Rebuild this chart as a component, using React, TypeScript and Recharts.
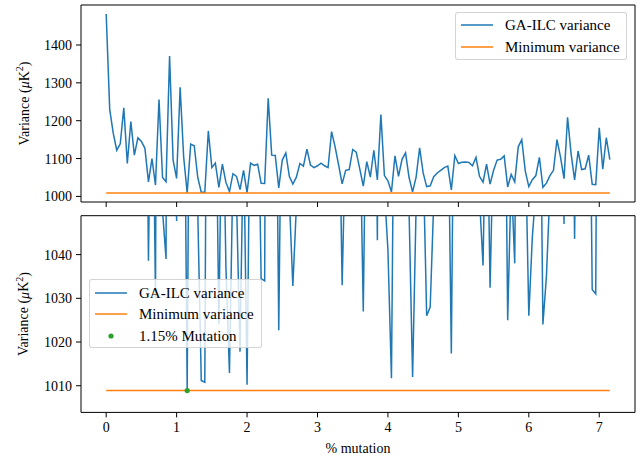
import React from 'react';
import { LineChart, Line, XAxis, YAxis, ReferenceArea, ReferenceDot } from 'recharts';

// ---------------- data ----------------
const mutationStep = 0.05; // % mutation between consecutive runs
const gaIlcVariance = [
  1482, 1230, 1167, 1122, 1139, 1234, 1087, 1198, 1109, 1155,
  1145, 1127, 1038.6, 1100, 1030, 1256, 1050, 1039, 1371, 1096,
  1047.7, 1288, 1104, 1008.9, 1138, 1134, 1050, 1011.2, 1010.8, 1173,
  1076, 1088, 1024, 1085, 1037, 1012.9, 1060, 1053, 1017.8, 1069,
  1010.2, 1088, 1082, 1085, 1034.5, 1034, 1259, 1109, 1108, 1022.7,
  1096, 1115, 1053, 1032.8, 1051, 1087, 1080, 1125, 1083, 1076,
  1081, 1088, 1081, 1076, 1171, 1131, 1083, 1033, 1069, 1071,
  1124, 1117, 1073, 1027, 1092, 1051, 1122, 1043.3, 1216, 1055,
  1041, 1011.7, 1107, 1053, 1098, 1115, 1050, 1012, 1051, 1128,
  1062, 1026, 1028, 1052, 1062, 1069, 1076, 1080, 1017.4, 1108,
  1087, 1090, 1091, 1090, 1081, 1103, 1053, 1037.5, 1085, 1032.4,
  1069, 1096, 1098, 1107, 1025, 1058, 1038, 1131, 1150, 1067,
  1026, 1044, 1055, 1103, 1024, 1035, 1055, 1069, 1150, 1104,
  1047, 1209, 1113, 1043.6, 1120, 1071, 1073, 1109, 1032, 1031,
  1181, 1072, 1155, 1097,
];
const minimumVariance = 1008.9;
const bestMutation = 1.15;
const seriesLabels = ['GA-ILC variance', 'Minimum variance', '1.15% Mutation'];
const xTicks = [0, 1, 2, 3, 4, 5, 6, 7];
const topTicks = [1000, 1100, 1200, 1300, 1400];
const bottomTicks = [1010, 1020, 1030, 1040];
const xAxisTitle = '% mutation';

// ---------------- derived ----------------
const rows = gaIlcVariance.map((v, i) => ({
  x: Math.round(i * mutationStep * 10000) / 10000,
  ga: v,
  min: minimumVariance,
}));
const xLast = rows[rows.length - 1].x;
const xDomain: [number, number] = [-xLast * 0.05, xLast * 1.05];
const vMax = Math.max(...gaIlcVariance);
const vMin = Math.min(minimumVariance, ...gaIlcVariance);
const vRange = vMax - vMin;
const topDomain: [number, number] = [vMin - 0.05 * vRange, vMax + 0.05 * vRange];
const bottomDomain: [number, number] = [minimumVariance - 5, minimumVariance + 40];

const FONT = "'Liberation Serif', 'Times New Roman', Times, serif";
const BLUE = '#1f77b4';
const ORANGE = '#ff7f0e';
const GREEN = '#2ca02c';
const TICK_FS = 14;
const LEG_FS = 15;

const VarianceLabel = (props: any) => {
  const vb = props.viewBox || { x: 0, y: 0, width: 0, height: 0 };
  const cy = vb.y + vb.height / 2;
  const x = 24;
  return (
    <text
      x={x}
      y={cy}
      transform={`rotate(-90, ${x}, ${cy})`}
      textAnchor="middle"
      dominantBaseline="central"
      fontSize={TICK_FS}
      fill="#000"
    >
      Variance (<tspan fontStyle="italic">μ</tspan>K<tspan dy={-5} fontSize={10}>2</tspan>
      <tspan dy={5}>)</tspan>
    </text>
  );
};

const XTitle = (props: any) => {
  const vb = props.viewBox || { x: 0, y: 0, width: 0, height: 0 };
  return (
    <text x={vb.x + vb.width / 2} y={vb.y + 41} textAnchor="middle" fontSize={TICK_FS} fill="#000">
      {xAxisTitle}
    </text>
  );
};

type LegendItem = { label: string; color: string; kind: 'line' | 'dot' };

const LegendBox = ({ left, top, width, height, items, firstRow, gap }: any) => (
  <div
    style={{
      position: 'absolute',
      left,
      top,
      width,
      height,
      boxSizing: 'border-box',
      border: '1px solid rgba(204,204,204,0.85)',
      borderRadius: 3,
      background: 'rgba(255,255,255,0.8)',
      fontFamily: FONT,
      fontSize: LEG_FS,
      color: '#000',
    }}
  >
    {items.map((it: LegendItem, i: number) => (
      <div
        key={it.label}
        style={{
          position: 'absolute',
          left: 0,
          top: firstRow + i * gap - 10,
          height: 20,
          lineHeight: '20px',
          whiteSpace: 'nowrap',
        }}
      >
        <svg width={32} height={20} style={{ position: 'absolute', left: 5, top: 0 }}>
          {it.kind === 'line' ? (
            <line x1={0} x2={32} y1={10} y2={10} stroke={it.color} strokeWidth={1.5} />
          ) : (
            <circle cx={16} cy={10} r={2.6} fill={it.color} />
          )}
        </svg>
        <span style={{ position: 'absolute', left: 49 }}>{it.label}</span>
      </div>
    ))}
  </div>
);

const tickStyle = { fill: '#000', fontSize: TICK_FS };

export default function App() {
  const topItems: LegendItem[] = [
    { label: seriesLabels[0], color: BLUE, kind: 'line' },
    { label: seriesLabels[1], color: ORANGE, kind: 'line' },
  ];
  const bottomItems: LegendItem[] = [
    { label: seriesLabels[0], color: BLUE, kind: 'line' },
    { label: seriesLabels[1], color: ORANGE, kind: 'line' },
    { label: seriesLabels[2], color: GREEN, kind: 'dot' },
  ];
  return (
    <div
      style={{
        position: 'absolute',
        left: 0,
        top: 0,
        width: 642,
        height: 460,
        background: '#fff',
        fontFamily: FONT,
      }}
    >
      <style>{`svg text, svg tspan { font-family: 'Liberation Serif', 'Times New Roman', Times, serif !important; }`}</style>
      <div style={{ position: 'absolute', left: 0, top: 0 }}>
        <LineChart width={642} height={216} data={rows} margin={{ top: 5, right: 7, bottom: 0, left: 0 }}>
          <XAxis
            dataKey="x"
            type="number"
            domain={xDomain}
            allowDataOverflow
            ticks={xTicks}
            tickFormatter={() => ''}
            tickSize={5}
            height={14}
            axisLine={false}
            tickLine={{ stroke: '#000' }}
            tick={tickStyle}
          />
          <YAxis
            type="number"
            domain={topDomain}
            allowDataOverflow
            ticks={topTicks}
            width={81}
            tickSize={5}
            tickMargin={4}
            axisLine={false}
            tickLine={{ stroke: '#000' }}
            tick={tickStyle}
            label={<VarianceLabel />}
          />
          <ReferenceArea
            x1={xDomain[0]}
            x2={xDomain[1]}
            y1={topDomain[0]}
            y2={topDomain[1]}
            fill="none"
            stroke="#000"
            strokeWidth={1}
            ifOverflow="visible"
          />
          <Line dataKey="ga" type="linear" stroke={BLUE} strokeWidth={1.5} dot={false} isAnimationActive={false} />
          <Line dataKey="min" type="linear" stroke={ORANGE} strokeWidth={1.5} dot={false} isAnimationActive={false} />
        </LineChart>
      </div>
      <div style={{ position: 'absolute', left: 0, top: 202 }}>
        <LineChart width={642} height={258} data={rows} margin={{ top: 13.7, right: 7, bottom: 0, left: 0 }}>
          <XAxis
            dataKey="x"
            type="number"
            domain={xDomain}
            allowDataOverflow
            ticks={xTicks}
            tickSize={5}
            tickMargin={5}
            height={47.6}
            axisLine={false}
            tickLine={{ stroke: '#000' }}
            tick={tickStyle}
            label={<XTitle />}
          />
          <YAxis
            type="number"
            domain={bottomDomain}
            allowDataOverflow
            ticks={bottomTicks}
            width={81}
            tickSize={5}
            tickMargin={4}
            axisLine={false}
            tickLine={{ stroke: '#000' }}
            tick={tickStyle}
            label={<VarianceLabel />}
          />
          <ReferenceArea
            x1={xDomain[0]}
            x2={xDomain[1]}
            y1={bottomDomain[0]}
            y2={bottomDomain[1]}
            fill="none"
            stroke="#000"
            strokeWidth={1}
            ifOverflow="visible"
          />
          <Line dataKey="ga" type="linear" stroke={BLUE} strokeWidth={1.5} dot={false} isAnimationActive={false} />
          <Line dataKey="min" type="linear" stroke={ORANGE} strokeWidth={1.5} dot={false} isAnimationActive={false} />
          <ReferenceDot x={bestMutation} y={minimumVariance} r={2.6} fill={GREEN} stroke="none" ifOverflow="visible" />
        </LineChart>
      </div>
      <LegendBox left={455} top={12} width={172} height={48} items={topItems} firstRow={12.3} gap={21.4} />
      <LegendBox left={89} top={279} width={173} height={69} items={bottomItems} firstRow={12.7} gap={21.65} />
    </div>
  );
}
